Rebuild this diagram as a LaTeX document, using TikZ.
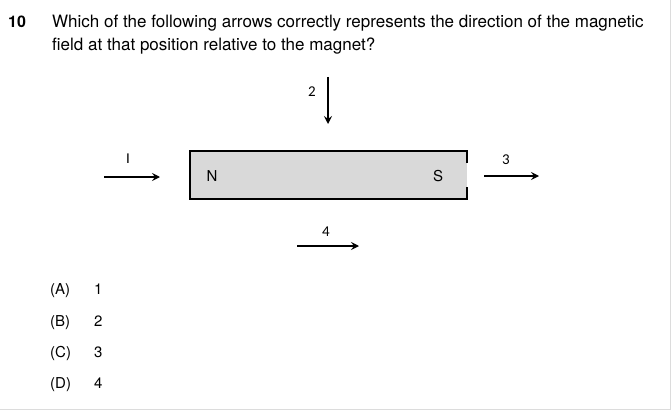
\documentclass[tikz,border=0pt]{standalone}
\usepackage{fontspec}
\setmainfont{TeX Gyre Heros}
\newfontfamily\labelfont{Carlito}
\usetikzlibrary{arrows.meta}
\definecolor{magnetgray}{HTML}{D9D9D9}
\definecolor{framegray}{HTML}{DCDCDC}

\begin{document}
\begin{tikzpicture}[
  x=1pt, y=-1pt,
  field/.style={-{Stealth[length=8pt, width=8pt, inset=3pt]}, line width=1.4pt},
  num/.style={font=\labelfont\fontsize{15}{16}\selectfont, inner sep=0pt},
  body/.style={font=\fontsize{15}{23}\selectfont, inner sep=0pt, anchor=base west},
  quest/.style={font=\fontsize{17}{23}\selectfont, inner sep=0pt, anchor=base west},
  pole/.style={font=\fontsize{15}{16}\selectfont, inner sep=0pt}
]
\useasboundingbox (0,0) rectangle (672,412);
\draw[framegray, line width=1pt] (670.5,0) -- (670.5,409.5) -- (0,409.5);

% question
\node[quest, font=\bfseries\fontsize{16}{23}\selectfont] (qnum) at (8,28) {10};
\node[quest] (question) at (52,28) {Which of the following arrows correctly represents the direction of the magnetic};
\node[quest] (question2) at (52,51) {field at that position relative to the magnet?};

% magnet
\node[fill=magnetgray, minimum width=277pt, minimum height=48pt, inner sep=0pt, outer sep=0pt] (magnet) at (328.5,175) {};
\draw[line width=1.3pt] (magnet.east) ++(0,-12) -- (magnet.north east) -- (magnet.north west)
  -- (magnet.south west) -- (magnet.south east) -- ++(0,-12);
\node[pole] (north) at (212,176) {N};
\node[pole] (south) at (438,176) {S};

% arrows
\coordinate (a1s) at (104,177); \coordinate (a1e) at (160,177);
\coordinate (a2s) at (328,77);  \coordinate (a2e) at (328,124);
\coordinate (a3s) at (484,176); \coordinate (a3e) at (539,176);
\coordinate (a4s) at (297,246); \coordinate (a4e) at (359,246);
\draw[field] (a1s) -- (a1e);
\draw[field] (a2s) -- (a2e);
\draw[field] (a3s) -- (a3e);
\draw[field] (a4s) -- (a4e);
\node[num] (lab1) at (128,159) {I};
\node[num] (lab2) at (312,92) {2};
\node[num] (lab3) at (506,160) {3};
\node[num] (lab4) at (326,232) {4};

% choices
\node[body] (optA) at (50,294) {(A)};
\node[body] (optB) at (50,326) {(B)};
\node[body] (optC) at (50,357) {(C)};
\node[body] (optD) at (50,388) {(D)};
\node[body] (ansA) at (94,294) {1};
\node[body] (ansB) at (94,326) {2};
\node[body] (ansC) at (94,357) {3};
\node[body] (ansD) at (94,388) {4};
\end{tikzpicture}
\end{document}
